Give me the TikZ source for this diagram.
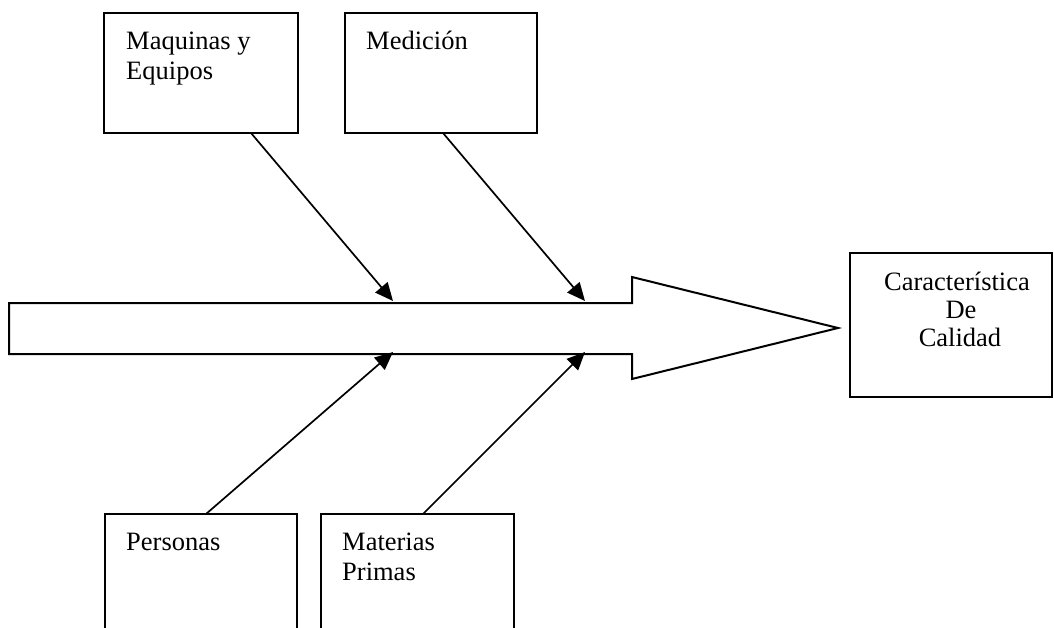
\documentclass[tikz,border=0pt]{standalone}
\usepackage{fontspec}
\setmainfont{Liberation Serif}
\usetikzlibrary{arrows.meta}
\tikzset{
  box/.style={draw, line width=2pt, anchor=north west, inner sep=0pt, outer sep=0pt},
  lbl/.style={inner sep=0pt, font=\fontsize{26.5}{30}\selectfont},
  conn/.style={line width=1.7pt, -{Triangle[length=18pt,width=16pt]}},
  shaft/.style={draw, line width=2pt, line join=miter}
}
\begin{document}
\begin{tikzpicture}[x=1pt,y=-1pt]
\useasboundingbox (0,0) rectangle (1054,628);
\clip (0,0) rectangle (1054,628);

% cause boxes
\node[box, minimum width=194pt, minimum height=120pt] (maq) at (104,13) {};
\node[box, minimum width=192pt, minimum height=120pt] (med) at (345,13) {};
\node[box, minimum width=192pt, minimum height=140pt] (per) at (105,514) {};
\node[box, minimum width=193pt, minimum height=140pt] (mat) at (321,514) {};
% effect box
\node[box, minimum width=202pt, minimum height=144pt] (efe) at (850,253) {};

% labels
\node[lbl, anchor=base west] (maq1) at (126,50) {Maquinas y};
\node[lbl, anchor=base west] (maq2) at (126,80) {Equipos};
\node[lbl, anchor=base west] (med1) at (366,50) {Medición};
\node[lbl, anchor=base west] (per1) at (126,550) {Personas};
\node[lbl, anchor=base west] (mat1) at (342,550) {Materias};
\node[lbl, anchor=base west] (mat2) at (342,580) {Primas};
\node[lbl, anchor=base] (efe1) at (957,290) {Característica};
\node[lbl, anchor=base] (efe2) at (961,318) {De};
\node[lbl, anchor=base] (efe3) at (960,346) {Calidad};

% spine arrow
\coordinate (tl) at (9,303);
\coordinate (nt) at (632,303);
\coordinate (ht) at (632,277);
\coordinate (tip) at (838,328);
\coordinate (hb) at (632,379);
\coordinate (nb) at (632,354);
\coordinate (bl) at (9,354);
\draw[shaft] (tl) -- (nt) -- (ht) -- (tip) -- (hb) -- (nb) -- (bl) -- cycle;

% branch points on the spine
\coordinate (j1) at (393,301);
\coordinate (j2) at (585,301);
\coordinate (j3) at (393,352);
\coordinate (j4) at (585,352);

% branch starts on the boxes
\coordinate (s1) at (251,133);
\coordinate (s2) at (443,133);
\coordinate (s3) at (206,514);
\coordinate (s4) at (423,514);

\draw[conn] (s1) -- (j1);
\draw[conn] (s2) -- (j2);
\draw[conn] (s3) -- (j3);
\draw[conn] (s4) -- (j4);
\end{tikzpicture}
\end{document}
